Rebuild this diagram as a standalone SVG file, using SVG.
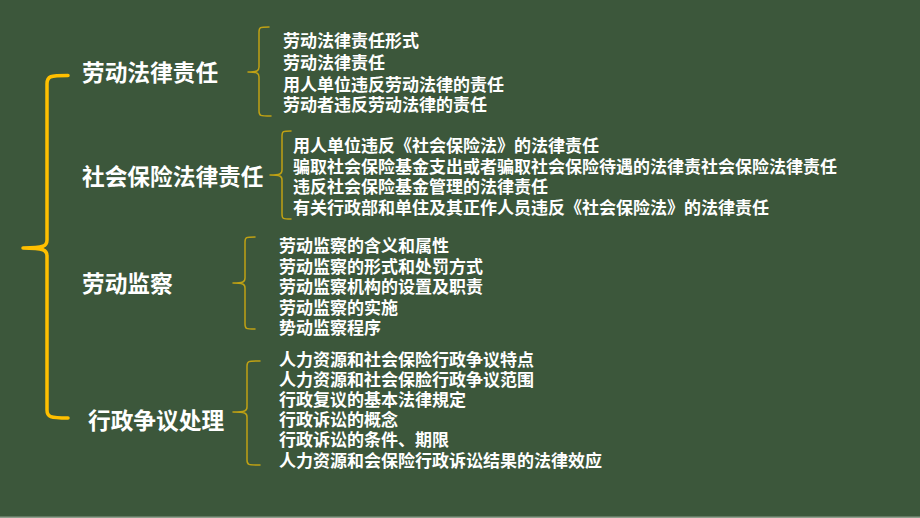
<svg xmlns="http://www.w3.org/2000/svg" width="920" height="518" viewBox="0 0 920 518">
<style>
.t{font-family:"Noto Sans CJK SC","Noto Sans",sans-serif;font-weight:bold;fill:#FFFFFF}
.big{font-size:22.7px}
.s17{font-size:17px}
.bb{fill:none;stroke:#FFC000;stroke-width:3.5;stroke-linecap:round;stroke-linejoin:round}
.sb{fill:none;stroke:#BFA114;stroke-width:1.5;stroke-linecap:round;stroke-linejoin:round}
</style>
<rect x="0" y="0" width="920" height="518" fill="#3C573B"/>
<rect x="0" y="516.5" width="920" height="1.5" fill="#8E9E8C"/>
<g id="connectors">
<path class="bb" d="M68,75.5 C50,75.5 47,76 47,84 L47,240 C47,246 44,248 23,248 C44,248 47,250 47,256 L47,410 C47,417 50,418 68,418"/>
<path class="sb" d="M269,27 C260,27 259,27 259,32 L259,67 C259,71 257,72 248,72 C257,72 259,73 259,77 L259,111 C259,116 260,116 271,116"/>
<path class="sb" d="M291,131 C283,131 282,131 282,136 L282,170 C282,174 280,175 270,175 C280,175 282,176 282,180 L282,214 C282,219 283,219 291,219"/>
<path class="sb" d="M255,237 C246,237 245,237 245,242 L245,278 C245,282 243,283 233,283 C243,283 245,284 245,288 L245,324 C245,329 246,329 255,329"/>
<path class="sb" d="M260,361 C248,361 247,361 247,366 L247,407 C247,411 245,412 233,412 C245,412 247,413 247,417 L247,460 C247,465 248,465 260,465"/>
</g>
<g id="n-labor-law"><text class="t big" x="82" y="81">劳动法律责任</text></g>
<g id="n-social-ins"><text class="t big" x="82" y="184.6">社会保险法律责任</text></g>
<g id="n-inspection"><text class="t big" x="82" y="291.6">劳动监察</text></g>
<g id="n-admin"><text class="t big" x="88" y="428.6">行政争议处理</text></g>
<g id="g1">
<text class="t s17" x="283" y="47">劳动法律责任形式</text>
<text class="t s17" x="283" y="69">劳动法律责任</text>
<text class="t s17" x="283" y="90.5">用人单位违反劳动法律的责任</text>
<text class="t s17" x="283" y="111">劳动者违反劳动法律的责任</text>
</g>
<g id="g2">
<text class="t s17" x="293" y="152">用人单位违反《社会保险法》的法律责任</text>
<text class="t s17" x="293" y="172.5">骗取社会保险基金支出或者骗取社会保险待遇的法律责社会保险法律责任</text>
<text class="t s17" x="293" y="193">违反社会保险基金管理的法律责任</text>
<text class="t s17" x="293" y="213.5">有关行政部和单住及其正作人员违反《社会保险法》的法律责任</text>
</g>
<g id="g3">
<text class="t s17" x="279" y="252">劳动监察的含义和属性</text>
<text class="t s17" x="279" y="272.5">劳动监察的形式和处罚方式</text>
<text class="t s17" x="279" y="293">劳动监察机构的设置及职责</text>
<text class="t s17" x="279" y="314">劳动监察的实施</text>
<text class="t s17" x="279" y="334">势动监察程序</text>
</g>
<g id="g4">
<text class="t s17" x="279" y="366">人力资源和社会保险行政争议特点</text>
<text class="t s17" x="279" y="386">人力资源和社会保脸行政争议范围</text>
<text class="t s17" x="279" y="406">行政复议的基本法律規定</text>
<text class="t s17" x="279" y="426">行政诉讼的概念</text>
<text class="t s17" x="279" y="446">行政诉讼的条件、期限</text>
<text class="t s17" x="279" y="467">人力资源和会保险行政诉讼结果的法律效应</text>
</g>
</svg>
